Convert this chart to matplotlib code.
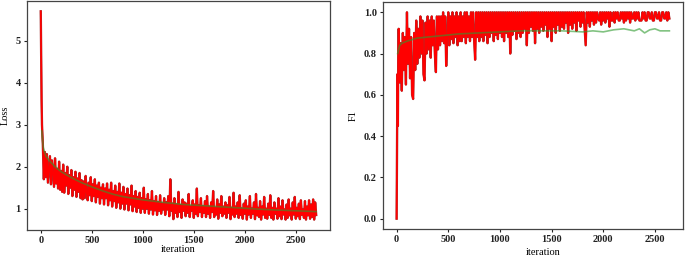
import matplotlib
matplotlib.use('Agg')
import matplotlib.pyplot as plt
import numpy as np

# Loss curve (left) (every 10 iterations)
loss_head_iter = [0, 4, 8, 12, 16]
loss_head = [5.70, 4.70, 3.60, 3.00, 2.75]
loss_body = [
    2.55, 1.70, 2.35, 1.75, 2.30, 1.62, 1.95, 2.25, 1.58, 2.15, 1.85, 1.52, 2.20, 1.60, 1.95, 1.48, 2.12, 1.45, 1.90, 1.40,
    2.05, 1.38, 1.85, 1.55, 2.00, 1.35, 1.80, 1.50, 1.92, 1.30, 1.75, 1.45, 1.88, 1.28, 1.72, 1.40, 1.85, 1.25, 1.68, 1.22,
    1.65, 1.25, 1.78, 1.38, 1.20, 1.62, 1.32, 1.75, 1.18, 1.58, 1.30, 1.70, 1.15, 1.55, 1.28, 1.62, 1.12, 1.50, 1.25, 1.58,
    1.10, 1.48, 1.25, 1.60, 1.08, 1.45, 1.20, 1.62, 1.05, 1.42, 1.18, 1.55, 1.02, 1.40, 1.15, 1.60, 1.00, 1.38, 1.12, 1.52,
    0.98, 1.35, 1.12, 1.48, 0.96, 1.32, 1.10, 1.55, 0.94, 1.30, 1.05, 1.42, 0.92, 1.28, 1.02, 1.38, 0.90, 1.25, 1.00, 1.50,
    0.90, 1.22, 1.00, 1.35, 0.88, 1.20, 0.98, 1.42, 0.86, 1.18, 0.96, 1.30, 0.85, 1.15, 0.95, 1.32, 0.88, 1.12, 0.98, 1.25,
    0.85, 1.15, 0.98, 1.30, 0.82, 1.70, 0.95, 1.12, 0.75, 1.25, 0.90, 1.10, 0.80, 1.40, 0.92, 1.08, 0.78, 1.22, 0.95, 1.15,
    0.82, 1.12, 0.90, 1.35, 0.80, 1.05, 0.95, 1.20, 0.78, 1.10, 0.88, 1.48, 0.82, 1.08, 0.92, 1.25, 0.80, 1.05, 0.90, 1.18,
    0.80, 1.30, 0.88, 1.05, 0.78, 1.15, 0.92, 1.42, 0.80, 1.02, 0.86, 1.22, 0.76, 1.10, 0.90, 1.30, 0.82, 1.05, 0.88, 1.15,
    0.78, 1.08, 0.90, 1.28, 0.75, 1.02, 0.86, 1.38, 0.80, 1.05, 0.88, 1.15, 0.78, 1.32, 0.85, 1.00, 0.76, 1.12, 0.88, 1.20,
    0.74, 1.05, 0.86, 1.30, 0.78, 1.00, 0.88, 1.15, 0.75, 1.35, 0.84, 1.02, 0.80, 1.18, 0.74, 1.05, 0.86, 1.28, 0.78, 1.00,
    0.76, 1.12, 0.85, 1.32, 0.78, 1.02, 0.74, 1.15, 0.88, 1.00, 0.76, 1.25, 0.82, 1.05, 0.75, 1.20, 0.86, 0.98, 0.74, 1.10,
    0.78, 1.22, 0.84, 1.00, 0.74, 1.15, 0.86, 1.28, 0.76, 1.02, 0.82, 1.12, 0.75, 1.20, 0.85, 0.98, 0.78, 1.18, 0.74, 1.05,
    0.84, 1.20, 0.76, 1.10, 0.80, 1.22, 0.74, 1.15, 0.85,
]
loss_iter = np.concatenate([loss_head_iter, np.arange(20, 2701, 10)])
loss_raw = np.array(loss_head + loss_body)

# Loss smoothed
loss_smooth_iter = [10, 25, 50, 100, 150, 200, 300, 400, 500, 600, 700, 800, 900,
                    1000, 1200, 1400, 1600, 1800, 2000, 2200, 2400, 2600, 2700]
loss_smooth = [2.85, 2.45, 2.25, 2.10, 1.98, 1.88, 1.74, 1.62, 1.52, 1.43, 1.35, 1.29, 1.25,
               1.21, 1.15, 1.10, 1.07, 1.04, 1.01, 0.98, 0.96, 0.94, 0.93]

# F1 curve (right) - raw values (every 10 iterations)
f1_head_iter = [0, 4, 8, 12, 16]
f1_head = [0.00, 0.35, 0.70, 0.45, 0.80]
f1_body = [
    0.92, 0.66, 0.85, 0.62, 0.90, 0.72, 0.88, 0.65, 1.00, 0.75, 0.92, 0.68, 0.88, 0.60, 0.58, 0.90, 0.72, 0.96, 0.75, 0.92,
    0.78, 0.98, 0.80, 0.96, 0.70, 0.67, 0.95, 0.80, 0.98, 0.82, 0.96, 0.78, 0.98, 0.84, 0.96, 0.80, 0.71, 0.98, 0.82, 0.98,
    0.84, 0.98, 0.86, 1.00, 0.85, 0.98, 0.74, 0.88, 1.00, 0.84, 0.98, 0.87, 1.00, 0.85, 0.98, 0.88, 1.00, 0.84, 0.98, 0.86,
    1.00, 0.86, 0.98, 0.88, 1.00, 0.85, 1.00, 0.88, 0.98, 0.86, 1.00, 0.88, 1.00, 0.87, 0.77, 1.00, 0.88, 1.00, 0.86, 1.00,
    0.88, 1.00, 0.86, 1.00, 0.89, 1.00, 0.85, 1.00, 0.88, 1.00, 0.90, 1.00, 0.86, 1.00, 0.89, 1.00, 0.87, 1.00, 0.90, 1.00,
    0.88, 1.00, 0.86, 1.00, 0.90, 1.00, 0.88, 1.00, 0.80, 1.00, 0.89, 1.00, 0.91, 1.00, 0.87, 1.00, 0.90, 1.00, 0.88, 1.00,
    0.90, 1.00, 0.92, 1.00, 0.84, 1.00, 0.90, 1.00, 0.93, 1.00, 0.91, 1.00, 0.85, 1.00, 0.92, 1.00, 0.90, 1.00, 0.93, 1.00,
    0.91, 1.00, 0.94, 1.00, 0.88, 1.00, 0.92, 1.00, 0.86, 1.00, 0.93, 1.00, 0.90, 1.00, 0.94, 1.00, 0.91, 1.00, 0.93, 1.00,
    0.92, 1.00, 0.95, 1.00, 0.90, 1.00, 0.94, 1.00, 0.92, 1.00, 0.95, 1.00, 0.91, 1.00, 0.96, 1.00, 0.93, 1.00, 0.95, 1.00,
    0.92, 0.84, 1.00, 0.95, 1.00, 0.93, 1.00, 0.96, 1.00, 0.94, 1.00, 0.95, 1.00, 0.97, 0.96, 1.00, 0.94, 1.00, 0.96, 1.00,
    0.95, 1.00, 0.97, 1.00, 0.93, 1.00, 0.96, 0.96, 1.00, 0.95, 1.00, 0.97, 1.00, 0.96, 0.96, 1.00, 0.97, 1.00, 0.95, 1.00,
    0.96, 1.00, 0.97, 1.00, 0.95, 1.00, 0.97, 0.97, 1.00, 0.96, 1.00, 0.97, 1.00, 0.96, 0.96, 0.96, 1.00, 0.97, 1.00, 0.96,
    0.96, 1.00, 1.00, 0.97, 0.97, 1.00, 0.96, 0.96, 1.00, 1.00, 0.97, 0.97, 1.00, 0.96, 0.96, 1.00, 1.00, 0.97, 0.97, 1.00,
    0.96, 1.00, 0.97,
]
f1_iter = np.concatenate([f1_head_iter, np.arange(20, 2641, 10)])
f1_raw = np.array(f1_head + f1_body)

f1_smooth_iter = [10, 30, 50, 100, 200, 300, 400, 500, 600, 800, 1000, 1200, 1400, 1600,
                  1800, 1900, 2000, 2100, 2200, 2300, 2350, 2400, 2450, 2500, 2550, 2640]
f1_smooth = [0.80, 0.84, 0.85, 0.86, 0.875, 0.88, 0.885, 0.89, 0.895, 0.90, 0.905, 0.91, 0.91,
             0.91, 0.905, 0.91, 0.905, 0.915, 0.92, 0.91, 0.92, 0.90, 0.915, 0.92, 0.91, 0.91]

plt.rcParams['font.family'] = ['Liberation Serif', 'DejaVu Serif']
plt.rcParams['font.size'] = 7.5

fig = plt.figure(figsize=(6.85, 2.58), dpi=100)
ax1 = fig.add_axes([0.0394, 0.1085, 0.4423, 0.888])
ax2 = fig.add_axes([0.5591, 0.1124, 0.438, 0.880])

red_dark = '#a03434'
red = '#ff0000'
green = '#2e9a2e'

for ax, xi, yr, xs, ys in [(ax1, loss_iter, loss_raw, loss_smooth_iter, loss_smooth),
                           (ax2, f1_iter, f1_raw, f1_smooth_iter, f1_smooth)]:
    ax.plot(xi, yr, color=red_dark, linewidth=1.7)
    ax.plot(xi, yr, color=red, linewidth=1.2)
    ax.plot(xs, ys, color=green, linewidth=1.2, alpha=0.6)
    for sp in ax.spines.values():
        sp.set_color('#444444')
        sp.set_linewidth(0.9)
    ax.tick_params(length=2.5, width=0.8, pad=2, colors='#222222')
    ax.set_xlabel('iteration', labelpad=0)

ax1.set_xticks([0, 500, 1000, 1500, 2000, 2500])
ax1.set_yticks([1, 2, 3, 4, 5])
ax1.set_ylabel('Loss', labelpad=4)
ax2.set_xticks([0, 500, 1000, 1500, 2000, 2500])
ax2.set_yticks([0.0, 0.2, 0.4, 0.6, 0.8, 1.0])
ax2.set_ylabel('F1', labelpad=4)
ax2.xaxis.set_label_coords(0.535, -0.085)

for ax in (ax1, ax2):
    for lab in ax.get_xticklabels() + ax.get_yticklabels():
        lab.set_fontweight('bold')

fig.savefig('out.png', dpi=100)
